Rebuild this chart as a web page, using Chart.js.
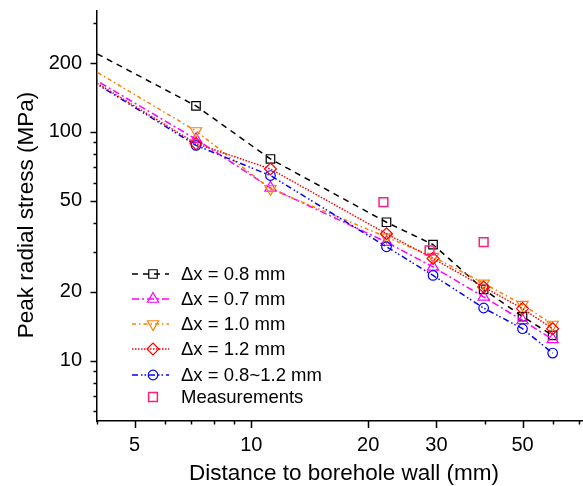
<!DOCTYPE html>
<html>
<head>
<meta charset="utf-8">
<script src="https://cdn.jsdelivr.net/npm/chart.js@4.4.0/dist/chart.umd.min.js"></script>
<style>
  html, body { margin: 0; padding: 0; background: #fff; }
  #wrap { width: 583px; height: 486px; }
</style>
</head>
<body>
<div id="wrap"><canvas id="chart" width="583" height="486"></canvas></div>
<script>
// distance to borehole wall (mm); first point sits left of the visible axis
var distances = [3.0, 7.2, 11.2, 22.3, 29.4, 39.7, 50, 59.8];
// peak radial stress (MPa) per mesh size
var dx08 = [284, 130, 76.2, 40.3, 32.2, 20.5, 15.6, 12.9];
var dx07 = [223, 93, 57, 33, 25.7, 19.0, 15.0, 12.4];
var dx10 = [244, 101, 56.4, 34.7, 28.5, 21.8, 17.6, 14.4];
var dx12 = [220, 89, 68.9, 35.9, 28.0, 21.0, 16.9, 13.8];
var dx0812 = [219, 87.4, 64.5, 31.5, 23.6, 17.0, 13.8, 10.8];
// field measurements
var measDist = [21.9, 28.8, 39.7];
var measStress = [49.3, 30.4, 33.0];

var xTicks = [4, 5, 6, 7, 8, 9, 10, 20, 30, 40, 50, 60, 70];
var xLabelled = [5, 10, 20, 30, 50];
var yTicks = [6, 7, 8, 9, 10, 20, 30, 40, 50, 60, 70, 80, 90, 100, 200, 300];
var yLabelled = [10, 20, 50, 100, 200];

var FONT = '"Liberation Sans", Arial, sans-serif';

function pts(xs, ys) {
  return xs.map(function (x, i) { return { x: x, y: ys[i] }; });
}

function series(label, ys, color, dash, style, radius, rot, order) {
  return {
    label: label,
    data: pts(distances, ys),
    borderColor: color,
    borderWidth: 1.5,
    borderDash: dash,
    pointStyle: style,
    pointRadius: radius,
    pointRotation: rot,
    pointBorderColor: color,
    pointBackgroundColor: 'rgba(0,0,0,0)',
    pointBorderWidth: 1.2,
    showLine: true,
    fill: false,
    tension: 0,
    clip: 0,
    order: order
  };
}

var datasets = [
  series('\u0394x = 0.8 mm', dx08, '#000000', [6, 5], 'rect', 6, 0, 5),
  series('\u0394x = 0.7 mm', dx07, '#ff00ff', [7, 3, 2, 3], 'triangle', 6.5, 0, 4),
  series('\u0394x = 1.0 mm', dx10, '#ff8000', [4, 3, 1.5, 3], 'triangle', 6.5, 180, 3),
  series('\u0394x = 1.2 mm', dx12, '#ff0000', [1.5, 1.5], 'rectRot', 6, 0, 1),
  series('\u0394x = 0.8~1.2 mm', dx0812, '#0000ff', [6, 3, 1.5, 2, 1.5, 3], 'circle', 4.8, 0, 2),
  {
    label: 'Measurements',
    data: pts(measDist, measStress),
    showLine: false,
    borderColor: '#ff1f7a',
    pointStyle: 'rect',
    pointRadius: 6.2,
    pointBorderColor: '#ff1f7a',
    pointBackgroundColor: 'rgba(0,0,0,0)',
    pointBorderWidth: 1.5,
    clip: 0,
    order: 0
  }
];

var legendRows = [274, 299, 324, 349, 375, 397];

var decor = {
  id: 'decor',
  afterDraw: function (chart) {
    var ctx = chart.ctx;
    var xs = chart.scales.x, ys = chart.scales.y;
    var area = chart.chartArea;
    ctx.save();
    // tick marks (outward)
    ctx.strokeStyle = '#000';
    ctx.lineWidth = 1.5;
    ctx.beginPath();
    xTicks.forEach(function (v) {
      var px = Math.round(xs.getPixelForValue(v)) + 0.5;
      var len = xLabelled.indexOf(v) >= 0 ? 7 : 3.5;
      ctx.moveTo(px, area.bottom);
      ctx.lineTo(px, area.bottom + len);
    });
    yTicks.forEach(function (v) {
      var py = Math.round(ys.getPixelForValue(v)) + 0.5;
      var len = yLabelled.indexOf(v) >= 0 ? 6.5 : 3.5;
      ctx.moveTo(area.left, py);
      ctx.lineTo(area.left - len, py);
    });
    ctx.stroke();

    // axis titles
    ctx.fillStyle = '#000';
    ctx.font = '22.5px ' + FONT;
    ctx.textAlign = 'center';
    ctx.textBaseline = 'alphabetic';
    ctx.fillText('Distance to borehole wall (mm)', 344, 480);
    ctx.save();
    ctx.translate(32.5, 215);
    ctx.rotate(-Math.PI / 2);
    ctx.fillText('Peak radial stress (MPa)', 0, 0);
    ctx.restore();

    // legend inside the plot
    ctx.font = '18.5px ' + FONT;
    ctx.textAlign = 'left';
    ctx.textBaseline = 'middle';
    chart.data.datasets.forEach(function (ds, i) {
      var y = legendRows[i];
      if (ds.showLine) {
        ctx.save();
        ctx.strokeStyle = ds.borderColor;
        ctx.lineWidth = ds.borderWidth;
        ctx.setLineDash(ds.borderDash);
        ctx.beginPath();
        ctx.moveTo(132, y);
        ctx.lineTo(169, y);
        ctx.stroke();
        ctx.restore();
      }
      ctx.save();
      ctx.strokeStyle = ds.pointBorderColor;
      ctx.fillStyle = 'rgba(0,0,0,0)';
      ctx.lineWidth = ds.pointBorderWidth;
      ctx.setLineDash([]);
      Chart.helpers.drawPoint(ctx, {
        pointStyle: ds.pointStyle,
        rotation: ds.pointRotation || 0,
        radius: ds.pointRadius,
        borderWidth: ds.pointBorderWidth
      }, 153, y);
      ctx.restore();
      ctx.fillStyle = '#000';
      ctx.fillText(ds.label, 181, y + 1);
    });
    ctx.restore();
  }
};

function setTicks(list) {
  return function (scale) {
    scale.ticks = list.map(function (v) { return { value: v }; });
  };
}

new Chart(document.getElementById('chart'), {
  type: 'line',
  data: { datasets: datasets },
  options: {
    responsive: false,
    devicePixelRatio: 1,
    animation: false,
    layout: { autoPadding: false, padding: { left: 0, right: 0, top: 11, bottom: 0 } },
    plugins: { legend: { display: false }, tooltip: { enabled: false } },
    scales: {
      x: {
        type: 'logarithmic',
        min: 4.0,
        max: 71.6,
        afterBuildTicks: setTicks(xTicks),
        afterFit: function (s) {
          s.height = 65;
          s.paddingLeft = 0; s.paddingRight = 0; s.paddingTop = 0; s.paddingBottom = 0;
        },
        grid: { display: false, drawTicks: false, tickLength: 0 },
        border: { display: true, color: '#000', width: 1.5 },
        ticks: {
          autoSkip: false,
          maxRotation: 0,
          padding: 12,
          color: '#000',
          font: { family: FONT, size: 20 },
          callback: function (v) { return xLabelled.indexOf(v) >= 0 ? String(v) : ''; }
        }
      },
      y: {
        type: 'logarithmic',
        min: 5.45,
        max: 338,
        afterBuildTicks: setTicks(yTicks),
        afterFit: function (s) {
          s.width = 97;
          s.paddingLeft = 0; s.paddingRight = 0; s.paddingTop = 0; s.paddingBottom = 0;
        },
        grid: { display: false, drawTicks: false, tickLength: 0 },
        border: { display: true, color: '#000', width: 1.5 },
        ticks: {
          autoSkip: false,
          padding: 15,
          color: '#000',
          font: { family: FONT, size: 20 },
          callback: function (v) { return yLabelled.indexOf(v) >= 0 ? String(v) : ''; }
        }
      }
    }
  },
  plugins: [decor]
});
</script>
</body>
</html>
